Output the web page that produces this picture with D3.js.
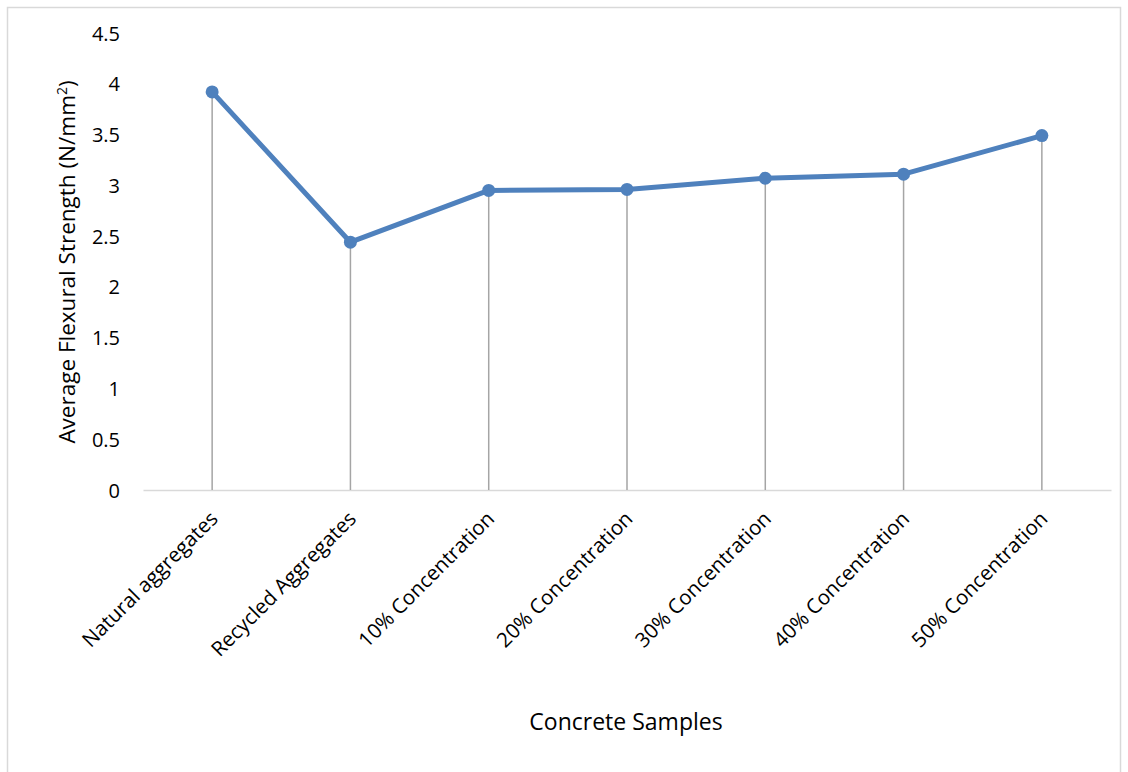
<!DOCTYPE html>
<html>

<head>
    <meta charset="utf-8">
    <script src="https://cdn.jsdelivr.net/npm/d3@7"></script>
    <style>
        body { margin: 0; background: #fff; }
        text {
            fill: #000;
            font-family: "Open Sans", Arial, sans-serif;
        }
    </style>
</head>

<body>

    <script>

        var samples = [
            "Natural aggregates",
            "Recycled Aggregates",
            "10% Concentration",
            "20% Concentration",
            "30% Concentration",
            "40% Concentration",
            "50% Concentration"
        ];
        var strength = [3.92, 2.44, 2.95, 2.96, 3.07, 3.11, 3.49];
        var yTicks = [0, 0.5, 1, 1.5, 2, 2.5, 3, 3.5, 4, 4.5];

        var width = 1128, height = 772;

        var svg = d3.select('body')
            .append('svg')
            .attr('width', width)
            .attr('height', height);

        // outer chart frame
        svg.append('rect')
            .attr('x', 7.5).attr('y', 7.5)
            .attr('width', 1113).attr('height', 790)
            .attr('fill', 'none')
            .attr('stroke', '#d9d9d9')
            .attr('stroke-width', 1.5);

        var x = d3.scaleBand().domain(samples).range([143, 1111]);
        var y = d3.scaleLinear().domain([0, 4.5]).range([490, 33]);

        // y tick labels (no axis line)
        var yAxis = svg.append('g')
            .attr('transform', 'translate(120,0)')
            .call(d3.axisLeft(y).tickValues(yTicks).tickSize(0).tickPadding(0)
                .tickFormat(d3.format('')));
        yAxis.select('.domain').remove();
        yAxis.selectAll('text')
            .style('font-size', '20px')
            .attr('dy', '0.35em');

        // x axis line with rotated labels
        var xAxis = svg.append('g')
            .attr('transform', 'translate(0,490)')
            .call(d3.axisBottom(x).tickSize(0).tickPadding(0));
        xAxis.select('.domain')
            .attr('stroke', '#d9d9d9')
            .attr('stroke-width', 1.5);
        xAxis.selectAll('text')
            .style('font-size', '20.5px')
            .attr('text-anchor', 'end')
            .attr('dy', null)
            .attr('y', 0)
            .attr('transform', 'translate(7,30) rotate(-45)');

        // drop lines from points to axis
        svg.append('g').selectAll('line')
            .data(strength)
            .join('line')
            .attr('x1', (d, i) => x(samples[i]) + x.bandwidth() / 2)
            .attr('x2', (d, i) => x(samples[i]) + x.bandwidth() / 2)
            .attr('y1', d => y(d))
            .attr('y2', y(0))
            .attr('stroke', '#a5a5a5')
            .attr('stroke-width', 1.5);

        var line = d3.line()
            .x((d, i) => x(samples[i]) + x.bandwidth() / 2)
            .y(d => y(d));

        svg.append('path')
            .datum(strength)
            .attr('d', line)
            .attr('fill', 'none')
            .attr('stroke', '#4f81bd')
            .attr('stroke-width', 5)
            .attr('stroke-linejoin', 'round');

        svg.append('g').selectAll('circle')
            .data(strength)
            .join('circle')
            .attr('cx', (d, i) => x(samples[i]) + x.bandwidth() / 2)
            .attr('cy', d => y(d))
            .attr('r', 6.5)
            .attr('fill', '#4f81bd');

        // axis titles
        svg.append('text')
            .attr('transform', 'translate(75,262) rotate(-90)')
            .attr('text-anchor', 'middle')
            .style('font-size', '22.5px')
            .html('Average Flexural Strength (N/mm<tspan dy="-8" style="font-size:14px">2</tspan><tspan dy="8">)</tspan>');

        svg.append('text')
            .attr('x', 626)
            .attr('y', 730)
            .attr('text-anchor', 'middle')
            .style('font-size', '23px')
            .text('Concrete Samples');
    </script>

</body>

</html>
